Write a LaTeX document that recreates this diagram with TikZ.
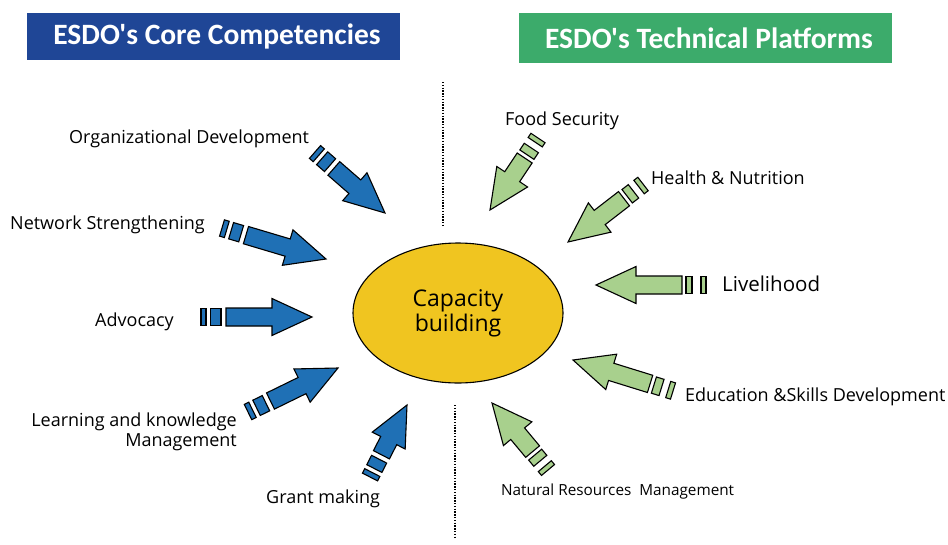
\documentclass[tikz,border=0pt]{standalone}
\usepackage{fontspec}
\setmainfont{Open Sans}
\newfontfamily\hfont{Carlito}
\usetikzlibrary{shapes.geometric}
\definecolor{hblue}{HTML}{1F4696}
\definecolor{hgreen}{HTML}{3CAB6B}
\definecolor{ablue}{HTML}{1F70B5}
\definecolor{agreen}{HTML}{A8D08D}
\definecolor{cyellow}{HTML}{F0C520}
\tikzset{
  arrowline/.style={draw=black, line width=1.1pt, line join=miter},
  header/.style={text=white, font=\hfont\bfseries\fontsize{29.5}{32}\selectfont, inner sep=0pt},
  lbl/.style={font=\fontsize{18}{20}\selectfont, inner sep=0pt},
  sepline/.style={line width=2.2pt, dash pattern=on 1.4pt off 1.4pt},
}
% #1 fill, #2 x1, #3 y1 (tail), #4 x2, #5 y2 (tip), #6 stripe2 start, #7 body start
\newcommand\ESDOarrow[7]{%
  \pgfmathsetmacro\aang{atan2(#5-#3,#4-#2)}%
  \pgfmathsetmacro\alen{veclen(#4-#2,#5-#3)}%
  \begin{scope}[shift={(#2,#3)},rotate=-\aang]
    \draw[arrowline,fill=#1] (0,-8.5) rectangle (5,8.5);
    \draw[arrowline,fill=#1] (#6,-8.5) rectangle (20,8.5);
    \draw[arrowline,fill=#1] (#7,-9) -- (\alen-40,-9) -- (\alen-40,-18.5) -- (\alen,0)
      -- (\alen-40,18.5) -- (\alen-40,9) -- (#7,9) -- cycle;
  \end{scope}}
\begin{document}
\begin{tikzpicture}[x=1pt,y=-1pt]
\useasboundingbox (0,0) rectangle (948,544);
\fill[white] (0,0) rectangle (948,544);
% headers
\fill[hblue] (27,13) rectangle (400,60);
\node[header] (hcore) at (217,36.5) {ESDO's Core Competencies};
\fill[hgreen] (519,13) rectangle (892,63);
\node[header] (htech) at (709,38) {ESDO's Technical Platforms};
% separators
\draw[sepline] (443,82) -- (443,225);
\draw[sepline] (455,405) -- (455,537);
% centre
\node[draw=black, line width=1.1pt, fill=cyellow, ellipse, minimum width=210pt, minimum height=140pt, inner sep=0pt,
      align=center, font=\fontsize{23}{25}\selectfont] (cap) at (458,313) {Capacity\\building};
% blue arrows
\ESDOarrow{ablue}{315}{152}{385}{213}{9.5}{25}
\ESDOarrow{ablue}{222}{228}{326}{259}{9.5}{25}
\ESDOarrow{ablue}{201}{317}{312}{317}{9.5}{25}
\ESDOarrow{ablue}{248}{412}{338}{368}{9.5}{25}
\ESDOarrow{ablue}{370}{477}{407}{405}{9.5}{25}
% green arrows
\ESDOarrow{agreen}{538}{138}{490}{210}{12}{24}
\ESDOarrow{agreen}{643}{184}{568}{242}{12}{24}
\ESDOarrow{agreen}{706}{285}{596}{285}{14}{24}
\ESDOarrow{agreen}{673}{391}{573}{360}{12}{24}
\ESDOarrow{agreen}{548}{470}{492}{403}{12}{24}
% labels
\node[lbl, anchor=base west] (lorg) at (69,143) {Organizational Development};
\node[lbl, anchor=base west] (lnet) at (10,229) {Network Strengthening};
\node[lbl, anchor=base west] (ladv) at (95,326) {Advocacy};
\node[lbl, anchor=base east] (llrn) at (237,426) {Learning and knowledge};
\node[lbl, anchor=base east] (lmgt) at (237,446) {Management};
\node[lbl, anchor=base west] (lgrt) at (266,503) {Grant making};
\node[lbl, anchor=base west] (lfood) at (505,125) {Food Security};
\node[lbl, anchor=base west] (lhlth) at (651,184) {Health \& Nutrition};
\node[lbl, anchor=base west, font=\fontsize{20.5}{22}\selectfont] (lliv) at (722,291) {Livelihood};
\node[lbl, anchor=base west] (ledu) at (685,401) {Education \&Skills Development};
\node[lbl, anchor=base west, font=\fontsize{15.3}{17}\selectfont] (lnat) at (501,495) {Natural Resources\ \ Management};
\end{tikzpicture}
\end{document}
